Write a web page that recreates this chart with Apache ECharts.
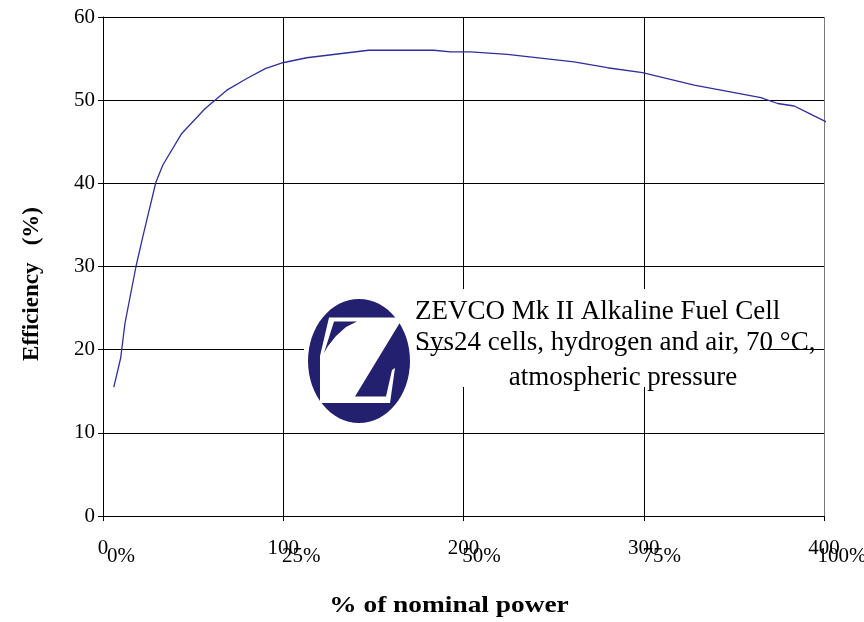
<!DOCTYPE html>
<html>
<head>
<meta charset="utf-8">
<script src="https://cdn.jsdelivr.net/npm/echarts@6/dist/echarts.min.js"></script>
<style>
html,body{margin:0;padding:0;background:#fff;}
#chart{width:864px;height:622px;}
</style>
</head>
<body>
<div id="chart"></div>
<script>
// ---- data ----
const powerW = [6, 9.8, 12.2, 18.3, 22, 29.3, 33.2, 43.7, 56.7, 68.7, 79.8, 90, 99.8, 113, 147.4, 183.5, 192.8, 203.9, 224.3, 261.3, 279.8, 299.3, 328, 365, 374.3, 383.5, 390.9, 404];
const efficiency = [15.5, 19.0, 23.2, 30.0, 33.5, 40.1, 42.2, 46.0, 49.0, 51.2, 52.6, 53.8, 54.5, 55.1, 56.0, 56.0, 55.8, 55.8, 55.5, 54.6, 53.9, 53.3, 51.8, 50.3, 49.6, 49.3, 48.5, 47.1];
const pctLabels = ['0%', '25%', '50%', '75%', '100%'];
const xTitle = '% of nominal power';
const yTitle = 'Efficiency   (%)';
const noteLines = ['ZEVCO Mk II Alkaline Fuel Cell', 'Sys24 cells, hydrogen and air, 70 °C,', 'atmospheric pressure'];

const seriesData = powerW.map((x, i) => [x, efficiency[i]]);
const SERIF = '"Liberation Serif", "Times New Roman", serif';

const chart = echarts.init(document.getElementById('chart'), null, {renderer: 'canvas'});
const navy = '#23206f';

chart.setOption({
  animation: false,
  backgroundColor: '#ffffff',
  grid: {left: 103, right: 40, top: 17, bottom: 106, containLabel: false, outerBoundsMode: 'none'},
  xAxis: [{
    type: 'value', min: 0, max: 400, interval: 100,
    axisLine: {show: true, lineStyle: {color: '#000', width: 1}},
    axisTick: {show: true, inside: false, length: 5, lineStyle: {color: '#000'}},
    axisLabel: {fontFamily: SERIF, fontSize: 21, color: '#000', margin: 22},
    splitLine: {show: true, lineStyle: {color: ['#000', '#000', '#000', '#000', '#7a7a7a'], width: 1}}
  }, {
    type: 'category', data: pctLabels, boundaryGap: false, position: 'bottom', offset: 0,
    axisLine: {show: false}, axisTick: {show: false}, splitLine: {show: false},
    axisLabel: {fontFamily: SERIF, fontSize: 21, color: '#000', margin: 30, padding: [0, 0, 0, 36]}
  }],
  yAxis: {
    type: 'value', min: 0, max: 60, interval: 10,
    axisLine: {show: true, lineStyle: {color: '#000', width: 1}},
    axisTick: {show: true, inside: false, length: 5, lineStyle: {color: '#000'}},
    axisLabel: {fontFamily: SERIF, fontSize: 21, color: '#000', margin: 8},
    splitLine: {show: true, lineStyle: {color: '#000', width: 1}}
  },
  series: [{
    type: 'line', xAxisIndex: 0, data: seriesData, showSymbol: false, symbol: 'none',
    clip: false, smooth: false,
    lineStyle: {color: '#2f2f9c', width: 1.3}
  }],
  graphic: [
    {type: 'rect', z: 50, shape: {x: 304, y: 293, width: 113, height: 133}, style: {fill: '#fff'}},
    {type: 'rect', z: 50, shape: {x: 447, y: 289, width: 313, height: 98}, style: {fill: '#fff'}},
    {type: 'ellipse', z: 51, shape: {cx: 359, cy: 361, rx: 51, ry: 62}, style: {fill: navy}},
    {type: 'polygon', z: 52, shape: {points: [
      [329, 317.5], [403, 317.5], [355, 396.5], [386, 396.5], [392, 370], [395, 368],
      [390, 403], [320, 403], [320, 356]
    ]}, style: {fill: '#fff'}},
    {type: 'polygon', z: 53, shape: {points: [
      [334, 321.5], [357, 321.5], [346, 327], [336, 336], [328, 346], [324, 353]
    ]}, style: {fill: navy}},
    {type: 'text', z: 60, style: {text: noteLines[0], x: 415, y: 312, font: '27px ' + SERIF, fill: '#000', textAlign: 'left', textVerticalAlign: 'middle'}},
    {type: 'text', z: 60, style: {text: noteLines[1], x: 415, y: 343, font: '27px ' + SERIF, fill: '#000', textAlign: 'left', textVerticalAlign: 'middle'}},
    {type: 'text', z: 60, style: {text: noteLines[2], x: 623, y: 378, font: '27px ' + SERIF, fill: '#000', textAlign: 'center', textVerticalAlign: 'middle'}},
    {type: 'text', z: 60, x: 449, y: 606, scaleX: 1.19, style: {text: xTitle, x: 0, y: 0, font: 'bold 23px ' + SERIF, fill: '#000', textAlign: 'center', textVerticalAlign: 'middle'}},
    {type: 'text', z: 60, x: 32, y: 284, rotation: Math.PI / 2, style: {text: yTitle, x: 0, y: 0, font: 'bold 23px ' + SERIF, fill: '#000', textAlign: 'center', textVerticalAlign: 'middle'}}
  ]
});
</script>
</body>
</html>
